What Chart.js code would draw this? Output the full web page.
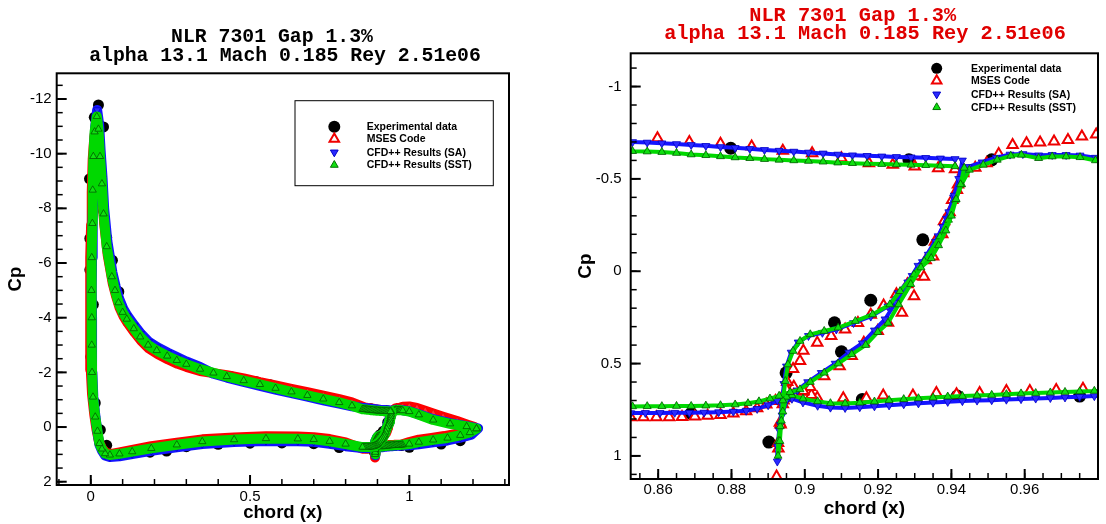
<!DOCTYPE html>
<html>
<head>
<meta charset="utf-8">
<script src="https://cdn.jsdelivr.net/npm/chart.js@4.4.1/dist/chart.umd.min.js"></script>
<style>
  html, body { margin: 0; padding: 0; background: #fff; }
  body { width: 1106px; height: 524px; position: relative; overflow: hidden; }
  #wrapLeft { position: absolute; left: 0; top: 0; width: 540px; height: 524px; }
  #wrapRight { position: absolute; left: 560px; top: 0; width: 546px; height: 524px; }
</style>
</head>
<body>
<div id="wrapLeft"><canvas id="leftChart"></canvas></div>
<div id="wrapRight"><canvas id="rightChart"></canvas></div>
<script>
// Datos: [x/c, Cp]
const seriesNames = ['Experimental data', 'MSES Code', 'CFD++ Results (SA)', 'CFD++ Results (SST)'];

const leftXTicks = [0, 0.5, 1];
const leftYTicks = [-12, -10, -8, -6, -4, -2, 0, 2];
const rightXTicks = [0.86, 0.88, 0.9, 0.92, 0.94, 0.96];
const rightYTicks = [-1, -0.5, 0, 0.5, 1];

const expData = [
  [0.024,-11.78],[0.011,-11.33],[0.040,-10.98],[-0.004,-9.08],[0.040,-7.90],[-0.003,-6.90],[0.050,-6.93],
  [0.068,-6.10],[-0.003,-5.75],[0.088,-4.95],[0.008,-4.48],[0.128,-3.74],[0.185,-2.95],[0.000,-2.57],
  [0.244,-2.52],[0.342,-2.10],[0.441,-1.84],[0.520,-1.66],[0.563,-1.55],[0.014,-0.88],[0.030,0.10],
  [0.050,0.67],[0.186,0.92],[0.238,0.88],[0.30,0.72],[0.40,0.63],[0.50,0.59],[0.60,0.58],[0.70,0.61],
  [0.78,0.75],[0.869,0.77],
  [0.8798,-0.666],[0.9284,-0.603],[0.951,-0.603],[0.9322,-0.170],[0.8902,0.925],[0.8949,0.550],
  [0.9081,0.279],[0.918,0.157],[0.910,0.436],[0.9157,0.694],[0.9416,0.676],[0.975,0.676],
  [1.00,0.74],[1.10,0.62],[1.16,0.50]
];

const msesMain = [
  [0.9432,-0.54],[0.9415,-0.44],[0.9395,-0.32],[0.9375,-0.20],[0.9350,-0.08],[0.9325,0.03],[0.9298,0.135],
  [0.9265,0.225],[0.9227,0.279],[0.9199,0.324],[0.9161,0.387],[0.9128,0.459],[0.9095,0.514],[0.9053,0.568],
  [0.9015,0.627],[0.8996,0.649],[0.8970,0.670],[0.8945,0.688],[0.8920,0.703],[0.8895,0.722],[0.8870,0.742],
  [0.8840,0.758],[0.8805,0.770],[0.8770,0.778],[0.8735,0.783],[0.8700,0.787],[0.8665,0.789],[0.8630,0.790],
  [0.8595,0.790],[0.8560,0.790],[0.8525,0.790],
  [0.80,0.56],[0.75,0.44],[0.70,0.37],[0.65,0.35],[0.55,0.34],[0.45,0.38],[0.35,0.45],[0.27,0.57],
  [0.19,0.70],[0.13,0.84],[0.09,0.93],[0.065,0.98],[0.048,0.95],[0.036,0.80],[0.026,0.55],[0.018,0.10],
  [0.011,-0.45],[0.004,-1.2],[0.000,-2.1],[-0.002,-3.0],[-0.002,-4.0],[-0.002,-5.0],[-0.001,-6.2],
  [0.001,-7.4],[0.003,-8.6],[0.006,-9.8],[0.011,-10.6],[0.018,-11.1],
  [0.024,-10.5],[0.030,-9.5],[0.036,-8.5],[0.042,-7.45],[0.053,-6.3],[0.069,-5.25],[0.079,-4.8],
  [0.090,-4.38],[0.103,-4.05],[0.116,-3.8],[0.138,-3.45],[0.158,-3.16],[0.183,-2.87],[0.21,-2.67],
  [0.243,-2.47],[0.273,-2.31],[0.30,-2.2],[0.343,-2.05],[0.385,-1.97],[0.427,-1.9],[0.48,-1.78],
  [0.531,-1.64],[0.58,-1.52],[0.63,-1.40],[0.68,-1.28],[0.73,-1.15],[0.78,-1.02],[0.82,-0.9],
  [0.8598,-0.72],[0.8685,-0.70],[0.877,-0.69],[0.8855,-0.675],[0.894,-0.653],[0.902,-0.639],
  [0.910,-0.612],[0.9175,-0.585],[0.924,-0.576],[0.930,-0.567],[0.9364,-0.558],[0.941,-0.552]
];

const msesFlap = [
  [1.205,0.00],[1.185,0.12],[1.15,0.24],[1.11,0.33],[1.07,0.40],[1.03,0.46],[1.00,0.55],
  [0.9759,0.637],[0.9686,0.643],[0.9614,0.648],[0.9550,0.648],[0.9477,0.660],[0.9414,0.666],[0.9359,0.660],
  [0.9295,0.673],[0.9214,0.673],[0.9168,0.688],[0.9105,0.688],[0.9034,0.685],[0.9018,0.670],[0.8995,0.652],
  [0.8970,0.625],[0.8950,0.640],[0.8940,0.720],[0.8932,0.820],[0.8927,0.930],[0.8923,1.112],
  [0.8928,0.960],[0.8934,0.830],[0.8942,0.700],[0.8952,0.600],[0.8968,0.530],[0.8987,0.486],[0.8996,0.430],
  [0.9034,0.387],[0.9072,0.351],[0.9110,0.315],[0.9145,0.280],[0.9180,0.235],[0.9215,0.185],[0.9250,0.125],
  [0.9280,0.070],[0.9303,0.027],[0.9330,-0.060],[0.9355,-0.160],[0.9380,-0.270],[0.9402,-0.386],
  [0.9418,-0.470],[0.9432,-0.530],[0.9465,-0.560],[0.9496,-0.585],[0.9529,-0.635],[0.9567,-0.684],
  [0.9605,-0.693],[0.9642,-0.697],[0.9680,-0.702],[0.9718,-0.711],[0.9756,-0.729],[0.9795,-0.740],
  [1.00,-0.75],[1.024,-0.70],[1.05,-0.60],[1.075,-0.50],[1.106,-0.38],[1.15,-0.22],[1.185,-0.08],[1.205,0.00]
];

const saMain = [
  [0.9430,-0.60],[0.9420,-0.50],[0.9408,-0.41],[0.9393,-0.32],[0.9377,-0.24],[0.9357,-0.16],[0.9337,-0.09],
  [0.9309,-0.03],[0.9281,0.06],[0.9248,0.17],[0.9219,0.26],[0.9190,0.32],[0.9157,0.39],[0.9120,0.44],
  [0.9083,0.50],[0.9045,0.55],[0.9008,0.60],[0.8980,0.645],[0.8955,0.67],[0.8925,0.70],[0.8900,0.725],
  [0.8870,0.745],[0.8840,0.755],[0.8805,0.760],[0.8765,0.763],[0.8725,0.765],[0.8685,0.766],[0.8645,0.766],
  [0.8605,0.767],[0.8565,0.767],[0.8525,0.768],
  [0.80,0.70],[0.75,0.61],[0.70,0.54],[0.65,0.52],[0.55,0.51],[0.45,0.55],[0.35,0.62],[0.27,0.74],
  [0.19,0.87],[0.13,0.99],[0.09,1.07],[0.06,1.10],[0.045,1.04],[0.035,0.86],[0.027,0.64],[0.021,0.18],
  [0.015,-0.35],[0.008,-1.1],[0.005,-2.0],[0.004,-3.0],[0.004,-4.0],[0.003,-5.0],[0.004,-6.2],
  [0.006,-7.5],[0.008,-8.8],[0.010,-10.0],[0.014,-11.0],[0.020,-11.6],
  [0.026,-11.1],[0.031,-10.1],[0.037,-9.1],[0.042,-8.0],[0.052,-6.8],[0.068,-5.65],[0.078,-5.15],
  [0.089,-4.7],[0.102,-4.33],[0.115,-4.07],[0.137,-3.72],[0.157,-3.42],[0.182,-3.12],[0.209,-2.92],
  [0.242,-2.72],[0.272,-2.55],[0.30,-2.4],[0.343,-2.2],[0.385,-1.95],[0.427,-1.81],[0.48,-1.65],
  [0.531,-1.51],[0.58,-1.37],[0.63,-1.24],[0.68,-1.11],[0.73,-0.98],[0.78,-0.86],[0.82,-0.76],
  [0.853,-0.700],[0.857,-0.697],[0.861,-0.693],[0.865,-0.689],[0.869,-0.684],[0.873,-0.679],[0.877,-0.673],
  [0.881,-0.668],[0.885,-0.663],[0.889,-0.657],[0.893,-0.653],[0.897,-0.648],[0.901,-0.643],[0.905,-0.638],
  [0.909,-0.632],[0.913,-0.628],[0.917,-0.625],[0.921,-0.622],[0.925,-0.619],[0.929,-0.617],[0.933,-0.614],
  [0.937,-0.611],[0.941,-0.608]
];

const saFlap = [
  [1.216,0.05],[1.195,0.28],[1.16,0.39],[1.12,0.49],[1.075,0.56],[1.03,0.63],[1.00,0.67],
  [0.979,0.676],[0.975,0.680],[0.971,0.683],[0.967,0.686],[0.963,0.689],[0.959,0.692],[0.955,0.695],
  [0.951,0.698],[0.947,0.700],[0.943,0.703],[0.939,0.707],[0.935,0.711],[0.931,0.715],[0.927,0.720],
  [0.923,0.726],[0.919,0.731],[0.915,0.736],[0.911,0.740],[0.907,0.738],[0.9035,0.728],[0.8995,0.710],
  [0.8965,0.690],[0.8950,0.700],[0.8938,0.780],[0.8930,0.860],[0.8926,0.950],[0.8925,1.030],
  [0.8929,0.940],[0.8933,0.830],[0.8937,0.720],[0.8943,0.610],[0.8950,0.515],[0.8963,0.440],[0.8982,0.385],
  [0.9010,0.350],[0.9048,0.333],[0.9086,0.315],[0.9133,0.280],[0.9180,0.245],[0.9227,0.190],[0.9255,0.118],
  [0.9293,0.025],[0.9321,-0.050],[0.9364,-0.190],[0.9387,-0.285],[0.9406,-0.400],[0.9425,-0.490],
  [0.9446,-0.565],[0.9484,-0.590],[0.9522,-0.615],[0.9560,-0.632],[0.9595,-0.635],[0.9638,-0.628],
  [0.9675,-0.630],[0.9713,-0.630],[0.9751,-0.627],[0.9793,-0.615],
  [1.00,-0.58],[1.03,-0.47],[1.075,-0.29],[1.128,-0.14],[1.18,-0.03],[1.216,0.05]
];

const sstMain = [
  [0.9435,-0.56],[0.9425,-0.47],[0.9413,-0.39],[0.9400,-0.30],[0.9385,-0.22],[0.9365,-0.14],[0.9345,-0.07],
  [0.9317,-0.02],[0.9289,0.07],[0.9256,0.18],[0.9227,0.28],[0.9199,0.33],[0.9166,0.40],[0.9128,0.45],
  [0.9091,0.50],[0.9053,0.55],[0.9015,0.60],[0.8987,0.64],[0.8960,0.655],[0.8930,0.675],[0.8905,0.690],
  [0.8875,0.705],[0.8845,0.715],[0.8810,0.722],[0.8770,0.726],[0.8730,0.728],[0.8690,0.730],[0.8650,0.730],
  [0.8610,0.731],[0.8570,0.731],[0.8530,0.732],
  [0.80,0.62],[0.75,0.52],[0.70,0.45],[0.65,0.43],[0.55,0.42],[0.45,0.46],[0.35,0.53],[0.27,0.65],
  [0.19,0.78],[0.13,0.90],[0.09,0.98],[0.06,1.02],[0.045,0.97],[0.035,0.80],[0.027,0.60],[0.021,0.15],
  [0.014,-0.37],[0.007,-1.1],[0.004,-2.0],[0.003,-3.0],[0.003,-4.0],[0.002,-5.0],[0.003,-6.2],
  [0.005,-7.45],[0.006,-8.67],[0.008,-9.9],[0.012,-10.8],[0.019,-11.36],
  [0.024,-10.9],[0.029,-9.9],[0.035,-8.9],[0.040,-7.8],[0.050,-6.6],[0.066,-5.5],[0.076,-5.0],
  [0.087,-4.55],[0.100,-4.2],[0.113,-3.95],[0.135,-3.6],[0.155,-3.3],[0.18,-3.0],[0.207,-2.8],
  [0.24,-2.6],[0.27,-2.44],[0.30,-2.3],[0.343,-2.12],[0.385,-1.98],[0.427,-1.85],[0.48,-1.7],
  [0.531,-1.56],[0.58,-1.42],[0.63,-1.29],[0.68,-1.16],[0.73,-1.03],[0.78,-0.9],[0.82,-0.78],
  [0.853,-0.650],[0.857,-0.648],[0.861,-0.645],[0.865,-0.640],[0.869,-0.632],[0.873,-0.628],[0.877,-0.622],
  [0.881,-0.616],[0.885,-0.612],[0.889,-0.607],[0.893,-0.603],[0.897,-0.600],[0.901,-0.597],[0.905,-0.593],
  [0.909,-0.588],[0.913,-0.585],[0.917,-0.582],[0.921,-0.580],[0.925,-0.578],[0.929,-0.576],[0.933,-0.574],
  [0.937,-0.571],[0.941,-0.568]
];

const sstFlap = [
  [1.211,0.06],[1.19,0.20],[1.16,0.30],[1.12,0.40],[1.075,0.47],[1.03,0.55],[1.00,0.62],
  [0.979,0.648],[0.975,0.651],[0.971,0.654],[0.967,0.657],[0.963,0.660],[0.959,0.662],[0.955,0.666],
  [0.951,0.670],[0.947,0.673],[0.943,0.676],[0.939,0.679],[0.935,0.684],[0.931,0.688],[0.927,0.693],
  [0.923,0.698],[0.919,0.706],[0.915,0.712],[0.911,0.716],[0.907,0.715],[0.9035,0.705],[0.8995,0.690],
  [0.8965,0.672],[0.8950,0.680],[0.8940,0.760],[0.8933,0.840],[0.8928,0.920],[0.8927,1.000],
  [0.8932,0.920],[0.8936,0.810],[0.8940,0.700],[0.8947,0.595],[0.8954,0.505],[0.8968,0.432],[0.8987,0.378],
  [0.9015,0.342],[0.9053,0.324],[0.9091,0.306],[0.9138,0.270],[0.9185,0.234],[0.9232,0.180],[0.9260,0.108],
  [0.9298,0.018],[0.9326,-0.054],[0.9369,-0.188],[0.9392,-0.278],[0.9411,-0.386],[0.9428,-0.470],
  [0.9449,-0.549],[0.9487,-0.576],[0.9525,-0.603],[0.9562,-0.625],[0.9591,-0.630],[0.9638,-0.612],
  [0.9675,-0.621],[0.9713,-0.621],[0.9751,-0.617],[0.9793,-0.600],
  [1.00,-0.57],[1.03,-0.45],[1.075,-0.26],[1.128,-0.12],[1.18,-0.02],[1.211,0.06]
];

const toXY = pts => pts.map(p => ({ x: p[0], y: p[1] }));

function steps(from, to, step) {
  const out = [];
  const n = Math.round((to - from) / step);
  for (let i = 0; i <= n; i++) out.push(+(from + i * step).toFixed(4));
  return out;
}

const sansFont = "'Liberation Sans', Arial, sans-serif";
const monoFont = "'Liberation Mono', 'Courier New', monospace";

// Colores de las series
const RED = '#ff0000', BLUE = '#1414ff', GREEN = '#00d800';

function buildDatasets(st) {
  const series = (label, data, color, extra) => Object.assign({
    label: label,
    data: toXY(data),
    showLine: st.showLine,
    borderColor: color,
    borderWidth: st.lineW,
    borderJoinStyle: 'round',
    borderCapStyle: 'round',
    tension: 0,
    pointStyle: 'triangle'
  }, extra);

  const mses = { showLine: st.msesLine, pointRadius: st.msesR, pointBackgroundColor: st.msesFill,
                 pointBorderColor: '#ee0000', pointBorderWidth: st.msesBw, order: 3 };
  const sa = { pointRadius: st.triR, pointRotation: 180, pointBackgroundColor: '#2a2aff',
               pointBorderColor: '#0000c8', pointBorderWidth: 0.8, order: 2 };
  const sst = { pointRadius: st.triR, pointBackgroundColor: '#10e010',
                pointBorderColor: '#005a00', pointBorderWidth: 0.8, order: 1 };

  return [
    { label: seriesNames[0], data: toXY(expData), showLine: false, pointStyle: 'circle',
      pointRadius: st.expR, pointBackgroundColor: '#000', pointBorderColor: '#000', pointBorderWidth: 0, order: 4 },
    series(seriesNames[1], msesMain, RED, mses),
    series(seriesNames[1], msesFlap, RED, mses),
    series(seriesNames[2], saMain, BLUE, sa),
    series(seriesNames[2], saFlap, BLUE, sa),
    series(seriesNames[3], sstMain, GREEN, sst),
    series(seriesNames[3], sstFlap, GREEN, sst)
  ];
}

// Marcadores de la leyenda
const legendMarks = [
  { style: 'circle', r: 6, fill: '#000', stroke: '#000', bw: 0 },
  { style: 'triangle', r: 5.5, fill: '#fff', stroke: '#f00000', bw: 2 },
  { style: 'triangle', r: 4.5, rot: true, fill: '#2a2aff', stroke: '#0000c8', bw: 1 },
  { style: 'triangle', r: 4.5, fill: '#10e010', stroke: '#007000', bw: 1 }
];

function drawMark(ctx, m, x, y, r) {
  ctx.beginPath();
  if (m.style === 'circle') {
    ctx.arc(x, y, r, 0, Math.PI * 2);
  } else {
    const s = m.rot ? -1 : 1;
    ctx.moveTo(x, y - s * r);
    ctx.lineTo(x + r * 0.866, y + s * r * 0.5);
    ctx.lineTo(x - r * 0.866, y + s * r * 0.5);
    ctx.closePath();
  }
  ctx.fillStyle = m.fill;
  ctx.fill();
  if (m.bw > 0) {
    ctx.lineWidth = m.bw;
    ctx.strokeStyle = m.stroke;
    ctx.stroke();
  }
}

function decorPlugin(st) {
  return {
    id: 'decor',
    afterDraw(chart) {
      const ctx = chart.ctx;
      const a = chart.chartArea;
      const xs = chart.scales.x, ys = chart.scales.y;
      ctx.save();
      ctx.strokeStyle = '#000';
      ctx.lineCap = 'butt';

      // marcas hacia dentro
      const tickX = (vals, len, w) => vals.forEach(v => {
        const px = xs.getPixelForValue(v);
        if (px < a.left + 1 || px > a.right - 1) return;
        ctx.lineWidth = w;
        ctx.beginPath(); ctx.moveTo(px, a.bottom); ctx.lineTo(px, a.bottom - len); ctx.stroke();
      });
      const tickY = (vals, len, w) => vals.forEach(v => {
        const py = ys.getPixelForValue(v);
        if (py < a.top + 1 || py > a.bottom - 1) return;
        ctx.lineWidth = w;
        ctx.beginPath(); ctx.moveTo(a.left, py); ctx.lineTo(a.left + len, py); ctx.stroke();
      });
      tickX(st.xMinor, 6, 1.5);
      tickY(st.yMinor, 6, 1.5);
      tickX(st.xTicks, 10, 2);
      tickY(st.yTicks, 10, 2);

      // marco
      ctx.lineWidth = 2;
      ctx.strokeRect(a.left, a.top, a.right - a.left, a.bottom - a.top);

      // titulo
      ctx.fillStyle = st.titleColor;
      ctx.font = 'bold ' + st.titleSize + 'px ' + monoFont;
      ctx.textAlign = 'center';
      ctx.textBaseline = 'middle';
      st.titles.forEach(t => ctx.fillText(t.text, t.x, t.y));

      // leyenda
      const lg = st.legend;
      if (lg.box) {
        ctx.lineWidth = 1;
        ctx.strokeStyle = '#000';
        ctx.strokeRect(lg.box[0], lg.box[1], lg.box[2], lg.box[3]);
      }
      ctx.font = 'bold 10.5px ' + sansFont;
      ctx.textAlign = 'left';
      seriesNames.forEach((name, i) => {
        const m = legendMarks[i];
        drawMark(ctx, m, lg.markX, lg.rows[i], i === 0 ? lg.circleR : m.r);
        ctx.fillStyle = '#000';
        ctx.fillText(name, lg.textX, lg.rows[i] + 0.5);
      });
      ctx.restore();
    }
  };
}

function makeChart(canvasId, st) {
  const tickFont = { family: sansFont, size: 15 };
  return new Chart(document.getElementById(canvasId), {
    type: 'scatter',
    data: { datasets: buildDatasets(st) },
    options: {
      responsive: true,
      maintainAspectRatio: false,
      animation: false,
      events: [],
      devicePixelRatio: 1,
      layout: { padding: st.padding },
      plugins: { legend: { display: false }, tooltip: { enabled: false } },
      scales: {
        x: {
          type: 'linear', position: 'bottom', min: st.xMin, max: st.xMax, bounds: 'data',
          grid: { display: false, drawTicks: false },
          border: { display: false },
          afterBuildTicks: s => { s.ticks = st.xTicks.map(v => ({ value: v })); },
          afterFit: s => { s.height = st.xAxisH; },
          ticks: { autoSkip: false, maxRotation: 0, minRotation: 0, padding: st.xTickPad,
                   color: '#000', font: tickFont, callback: v => String(v) },
          title: { display: true, text: 'chord (x)', color: '#000',
                   font: { family: sansFont, size: st.axisTitleSize, weight: 'bold' },
                   padding: { top: 0, bottom: st.xTitlePad } }
        },
        y: {
          type: 'linear', position: 'left', min: st.yMin, max: st.yMax, reverse: true, bounds: 'data',
          grid: { display: false, drawTicks: false },
          border: { display: false },
          afterBuildTicks: s => { s.ticks = st.yTicks.map(v => ({ value: v })); },
          afterFit: s => { s.width = st.yAxisW; },
          ticks: { autoSkip: false, padding: st.yTickPad, color: '#000', font: tickFont,
                   callback: v => String(v) },
          title: { display: true, text: 'Cp', color: '#000',
                   font: { family: sansFont, size: st.axisTitleSize, weight: 'bold' },
                   padding: { top: st.yTitlePad, bottom: 0 } }
        }
      }
    },
    plugins: [decorPlugin(st)]
  });
}

document.addEventListener('DOMContentLoaded', () => {

  // Panel izquierdo: perfil completo
  makeChart('leftChart', {
    xMin: -0.107, xMax: 1.313, yMin: -12.94, yMax: 2.12,
    xTicks: leftXTicks, yTicks: leftYTicks,
    xMinor: steps(-0.1, 1.3, 0.1), yMinor: steps(-12.5, 2, 0.5),
    padding: { left: 0, top: 73.3, right: 31, bottom: 0 },
    yAxisW: 56.7, xAxisH: 39, xTickPad: 2.7, yTickPad: 5,
    axisTitleSize: 18.5, xTitlePad: 0, yTitlePad: 4.4,
    showLine: true, msesLine: true, lineW: 10, triR: 4.2,
    msesR: 4, msesFill: '#ff3030', msesBw: 0.8, expR: 5.5,
    titleColor: '#000', titleSize: 19.8,
    titles: [
      { text: 'NLR 7301 Gap 1.3%', x: 272, y: 37.3 },
      { text: 'alpha 13.1 Mach 0.185 Rey 2.51e06', x: 285, y: 55.7 }
    ],
    legend: { box: [295, 100.7, 198.3, 85], markX: 334.3, textX: 366.7,
              rows: [126.7, 139, 152.3, 165], circleR: 6 }
  });

  // Panel derecho: detalle del flap
  makeChart('rightChart', {
    xMin: 0.8525, xMax: 0.98, yMin: -1.18, yMax: 1.125,
    xTicks: rightXTicks, yTicks: rightYTicks,
    xMinor: steps(0.855, 0.98, 0.005), yMinor: steps(-1.1, 1.1, 0.1),
    padding: { left: 0, top: 53.3, right: 7.7, bottom: 0 },
    yAxisW: 70.7, xAxisH: 45, xTickPad: 2, yTickPad: 9,
    axisTitleSize: 19, xTitlePad: 4.3, yTitlePad: 14.6,
    showLine: true, msesLine: false, lineW: 4, triR: 4.6,
    msesR: 6, msesFill: '#ffffff', msesBw: 2, expR: 6.5,
    titleColor: '#e00000', titleSize: 20.3,
    titles: [
      { text: 'NLR 7301 Gap 1.3%', x: 292.7, y: 16 },
      { text: 'alpha 13.1 Mach 0.185 Rey 2.51e06', x: 305, y: 34.3 }
    ],
    legend: { box: null, markX: 376.7, textX: 411,
              rows: [68.3, 80.7, 94.3, 107.3], circleR: 5.5 }
  });
});
</script>
</body>
</html>
